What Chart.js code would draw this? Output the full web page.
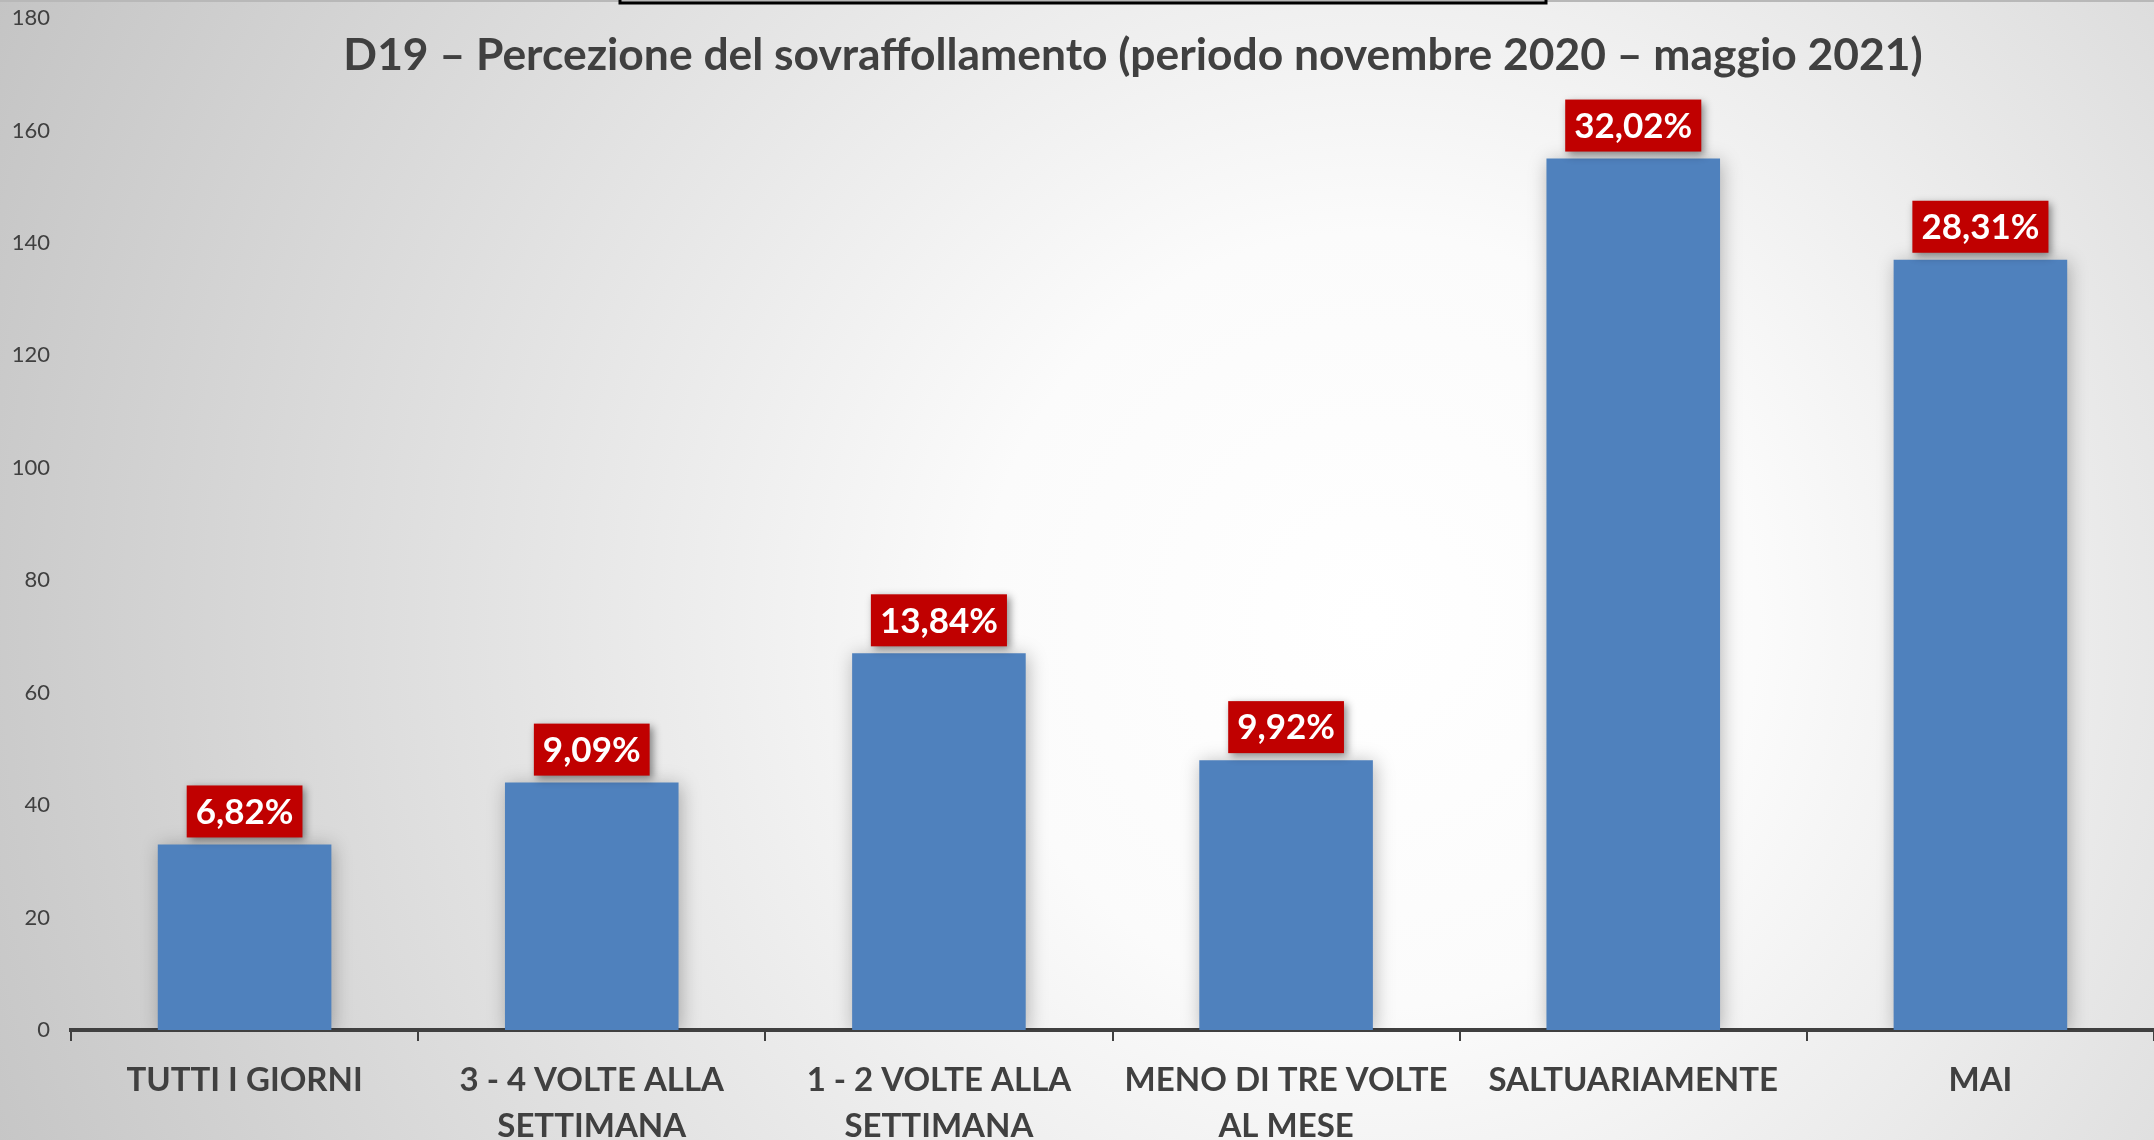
<!DOCTYPE html>
<html>
<head>
<meta charset="utf-8">
<script src="https://cdn.jsdelivr.net/npm/chart.js@4.4.1/dist/chart.umd.min.js"></script>
<style>
	body { margin: 0; padding: 0; background: #fff; }
	#chart { display: block; }
</style>
</head>
<body>
<canvas id="chart" width="2154" height="1140"></canvas>
<script>
var categories = [
	"TUTTI I GIORNI",
	["3 - 4 VOLTE ALLA", "SETTIMANA"],
	["1 - 2 VOLTE ALLA", "SETTIMANA"],
	["MENO DI TRE VOLTE", "AL MESE"],
	"SALTUARIAMENTE",
	"MAI"
];
var counts = [33, 44, 67, 48, 155, 137];
var percentLabels = ["6,82%", "9,09%", "13,84%", "9,92%", "32,02%", "28,31%"];
var yTicks = [0, 20, 40, 60, 80, 100, 120, 140, 160, 180];
var titleText = "D19 \u2013 Percezione del sovraffollamento (periodo novembre 2020 \u2013 maggio 2021)";

var face = 'Lato, "Open Sans", sans-serif';

// background, frame and title
var backdrop = {
	id: "backdrop",
	beforeDraw: function(chart) {
		var ctx = chart.ctx;
		var w = chart.width, h = chart.height;
		ctx.save();
		var g = ctx.createRadialGradient(1370, 620, 0, 1370, 620, 1550);
		g.addColorStop(0, "#ffffff");
		g.addColorStop(0.25, "#fbfbfb");
		g.addColorStop(1, "#c2c2c2");
		ctx.fillStyle = g;
		ctx.fillRect(0, 0, w, h);
		ctx.fillStyle = "#b8b8b8";
		ctx.fillRect(0, 0, w, 2);
		ctx.strokeStyle = "#000";
		ctx.lineWidth = 3;
		ctx.strokeRect(620, -10, 926, 13);
		ctx.restore();
	},
	afterDraw: function(chart) {
		var ctx = chart.ctx;
		ctx.save();
		ctx.fillStyle = "#404040";
		ctx.font = "bold 44px " + face;
		// squeeze to the width of the original title
		var size = 44 * 1580 / ctx.measureText(titleText).width;
		ctx.font = "bold " + size.toFixed(1) + "px " + face;
		ctx.textAlign = "center";
		ctx.textBaseline = "middle";
		ctx.fillText(titleText, 1133, 56);
		ctx.restore();
	}
};

// soft shadow round the bars
var barGlow = {
	id: "barGlow",
	beforeDatasetsDraw: function(chart) {
		var ctx = chart.ctx;
		ctx.save();
		ctx.shadowColor = "rgba(0,0,0,0.28)";
		ctx.shadowBlur = 18;
		ctx.shadowOffsetX = 2;
		ctx.shadowOffsetY = 2;
	},
	afterDatasetsDraw: function(chart) {
		chart.ctx.restore();
	}
};

// red percentage boxes
var pctBoxes = {
	id: "pctBoxes",
	afterDatasetsDraw: function(chart) {
		var ctx = chart.ctx;
		var meta = chart.getDatasetMeta(0);
		ctx.save();
		ctx.font = "bold 35px " + face;
		ctx.textAlign = "center";
		ctx.textBaseline = "middle";
		meta.data.forEach(function(bar, i) {
			var txt = percentLabels[i];
			var tw = ctx.measureText(txt).width;
			var bw = tw + 18, bh = 52;
			var bx = bar.x - bw / 2;
			var by = bar.y - 7 - bh;
			ctx.save();
			ctx.shadowColor = "rgba(0,0,0,0.45)";
			ctx.shadowBlur = 8;
			ctx.shadowOffsetX = 3;
			ctx.shadowOffsetY = 3;
			ctx.fillStyle = "#C00000";
			ctx.fillRect(bx, by, bw, bh);
			ctx.restore();
			ctx.fillStyle = "#ffffff";
			ctx.fillText(txt, bar.x, by + bh / 2 + 1);
		});
		ctx.restore();
	}
};

var chart = new Chart(document.getElementById("chart"), {
	type: "bar",
	data: {
		labels: categories,
		datasets: [{
			data: counts,
			backgroundColor: "#4F81BD",
			borderWidth: 0,
			barPercentage: 0.5,
			categoryPercentage: 1
		}]
	},
	options: {
		responsive: false,
		animation: false,
		layout: { padding: { top: 18, left: 0, right: 0, bottom: 0 } },
		plugins: {
			legend: { display: false },
			tooltip: { enabled: false },
			title: { display: false }
		},
		scales: {
			x: {
				grid: {
					display: true,
					drawOnChartArea: false,
					drawTicks: true,
					tickLength: 11,
					color: "#404040",
					lineWidth: 2,
					offset: true
				},
				border: { display: true, color: "#404040", width: 4 },
				ticks: {
					color: "#404040",
					padding: 16,
					maxRotation: 0,
					autoSkip: false,
					font: { family: face, size: 33, weight: "bold", lineHeight: "46px" }
				},
				afterFit: function(scale) { scale.height = 110; }
			},
			y: {
				min: 0,
				max: 180,
				// hidden tick marks only used to push the labels off the axis
				grid: { display: false, drawTicks: true, tickLength: 21 },
				border: { display: false },
				afterBuildTicks: function(scale) {
					scale.ticks = yTicks.map(function(v) { return { value: v }; });
				},
				ticks: {
					color: "#404040",
					padding: 0,
					font: { family: face, size: 22 }
				},
				afterFit: function(scale) { scale.width = 71; }
			}
		}
	},
	plugins: [backdrop, barGlow, pctBoxes]
});
</script>
</body>
</html>
